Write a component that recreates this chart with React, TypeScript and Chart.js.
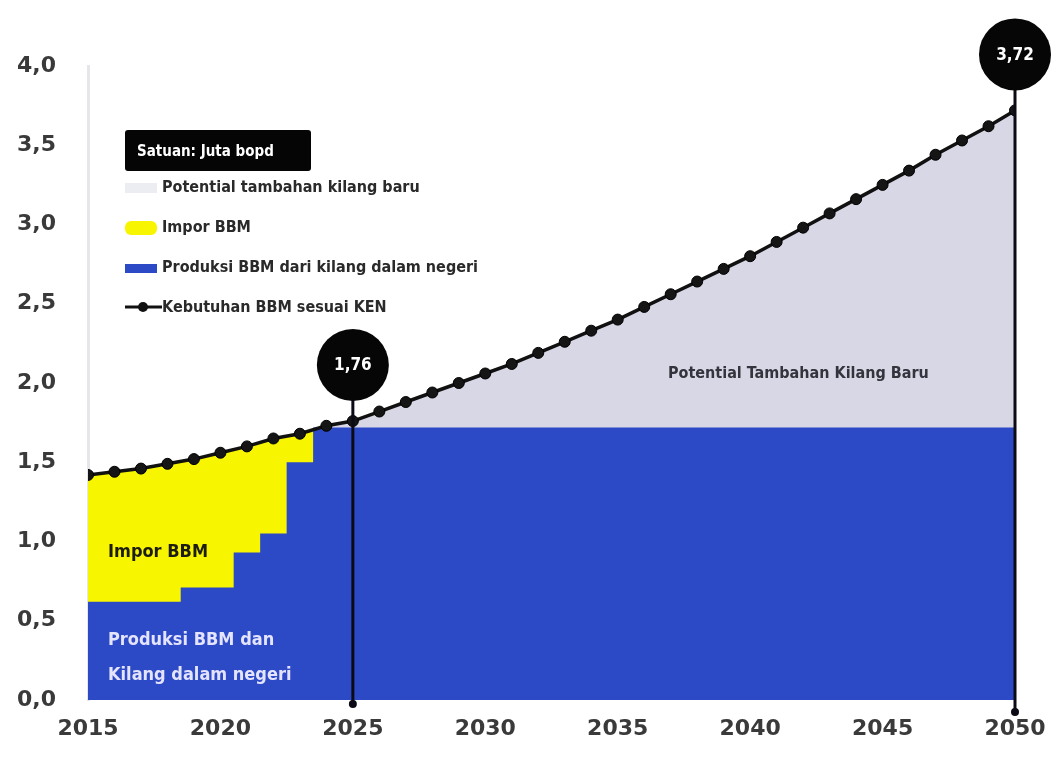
import React, { useEffect, useRef } from 'react';
import { Chart, registerables } from 'chart.js';

Chart.register(...registerables);

// ---------- DATA ----------
const years = [
  2015, 2016, 2017, 2018, 2019, 2020, 2021, 2022, 2023, 2024,
  2025, 2026, 2027, 2028, 2029, 2030, 2031, 2032, 2033, 2034,
  2035, 2036, 2037, 2038, 2039, 2040, 2041, 2042, 2043, 2044,
  2045, 2046, 2047, 2048, 2049, 2050,
];

// Kebutuhan BBM sesuai KEN (juta bopd)
const demand = [
  1.42, 1.44, 1.46, 1.49, 1.52, 1.56, 1.60, 1.65, 1.68, 1.73,
  1.76, 1.82, 1.88, 1.94, 2.00, 2.06, 2.12, 2.19, 2.26, 2.33,
  2.40, 2.48, 2.56, 2.64, 2.72, 2.80, 2.89, 2.98, 3.07, 3.16,
  3.25, 3.34, 3.44, 3.53, 3.62, 3.72,
];

// Produksi BBM dari kilang dalam negeri (juta bopd)
const production = [
  0.62, 0.62, 0.62, 0.62, 0.71, 0.71, 0.93, 1.05, 1.50, 1.72,
  1.72, 1.72, 1.72, 1.72, 1.72, 1.72, 1.72, 1.72, 1.72, 1.72,
  1.72, 1.72, 1.72, 1.72, 1.72, 1.72, 1.72, 1.72, 1.72, 1.72,
  1.72, 1.72, 1.72, 1.72, 1.72, 1.72,
];

// Impor BBM covers demand up to this year; new refinery potential from it on
const importLastYear = 2024;
const potentialFirstYear = 2024;

const calloutYears = [2025, 2050];

const xTicks = [2015, 2020, 2025, 2030, 2035, 2040, 2045, 2050];
const yTicks = [0, 0.5, 1.0, 1.5, 2.0, 2.5, 3.0, 3.5, 4.0];

const legendLabels = [
  'Potential tambahan kilang baru',
  'Impor BBM',
  'Produksi BBM dari kilang dalam negeri',
  'Kebutuhan BBM sesuai KEN',
];
const unitLabel = 'Satuan: Juta bopd';
const areaLabelImport = 'Impor BBM';
const areaLabelProduction = ['Produksi BBM dan', 'Kilang dalam negeri'];
const areaLabelPotential = 'Potential Tambahan Kilang Baru';

// ---------- STYLE ----------
const BLUE = '#2c49c6';
const YELLOW = '#f8f500';
const GRAY = '#d8d7e6';
const NARROW = '"DejaVu Sans Condensed", "Liberation Sans Narrow", "Roboto", sans-serif';
const fmt = (v: number, d: number) => v.toFixed(d).replace('.', ',');

const overlayPlugin = {
  id: 'overlay',
  afterDatasetsDraw(chart: any) {
    const { ctx, scales, chartArea } = chart;
    const x = scales.x;
    const y = scales.y;
    const extensions = [4, 12];
    calloutYears.forEach((yr, k) => {
      const v = demand[years.indexOf(yr)];
      const px = x.getPixelForValue(yr);
      const py = y.getPixelForValue(v);
      const cy = py - 56;
      const r = 36;
      const bottom = chartArea.bottom + extensions[k];
      ctx.save();
      ctx.strokeStyle = '#0b0b16';
      ctx.lineWidth = 3;
      ctx.beginPath();
      ctx.moveTo(px, cy);
      ctx.lineTo(px, bottom);
      ctx.stroke();
      ctx.fillStyle = '#0b0b16';
      ctx.beginPath();
      ctx.arc(px, bottom, 4, 0, Math.PI * 2);
      ctx.fill();
      ctx.fillStyle = '#060606';
      ctx.beginPath();
      ctx.arc(px, cy, r, 0, Math.PI * 2);
      ctx.fill();
      ctx.fillStyle = '#ffffff';
      ctx.font = `bold 17px ${NARROW}`;
      ctx.textAlign = 'center';
      ctx.textBaseline = 'middle';
      ctx.fillText(fmt(v, 2), px, cy + 1);
      ctx.restore();
    });
  },
  afterDraw(chart: any) {
    const { ctx } = chart;
    ctx.save();
    // area labels
    ctx.textBaseline = 'middle';
    ctx.textAlign = 'left';
    ctx.font = `bold 18px ${NARROW}`;
    ctx.fillStyle = '#1c1c10';
    ctx.fillText(areaLabelImport, 108, 552);
    ctx.fillStyle = '#e4e4ff';
    ctx.font = `bold 18px ${NARROW}`;
    ctx.fillText(areaLabelProduction[0], 108, 640);
    ctx.fillText(areaLabelProduction[1], 108, 675);
    ctx.fillStyle = '#34343c';
    ctx.font = `bold 16px ${NARROW}`;
    ctx.fillText(areaLabelPotential, 668, 374);

    // legend
    ctx.fillStyle = '#050505';
    ctx.beginPath();
    ctx.roundRect(125, 130, 186, 41, 3);
    ctx.fill();
    ctx.fillStyle = '#ffffff';
    ctx.font = `bold 15px ${NARROW}`;
    ctx.fillText(unitLabel, 137, 152);

    const rows = [188, 228, 268, 308];
    ctx.fillStyle = '#ececf3';
    ctx.fillRect(125, 183, 32, 10);
    ctx.fillStyle = YELLOW;
    ctx.beginPath();
    ctx.roundRect(125, 221, 32, 14, 6);
    ctx.fill();
    ctx.fillStyle = BLUE;
    ctx.fillRect(125, 264, 32, 9);
    ctx.strokeStyle = '#111';
    ctx.lineWidth = 3;
    ctx.beginPath();
    ctx.moveTo(125, 307);
    ctx.lineTo(162, 307);
    ctx.stroke();
    ctx.fillStyle = '#111';
    ctx.beginPath();
    ctx.arc(143, 307, 5, 0, Math.PI * 2);
    ctx.fill();

    ctx.fillStyle = '#2a2a2a';
    ctx.font = `bold 16px ${NARROW}`;
    legendLabels.forEach((t, i) => ctx.fillText(t, 162, rows[i]));
    ctx.restore();
  },
};

export default function App() {
  const canvasRef = useRef<HTMLCanvasElement | null>(null);

  useEffect(() => {
    if (!canvasRef.current) return;
    const pts = (vals: number[], keep: (yr: number) => boolean) =>
      years.filter((yr) => keep(yr)).map((yr) => ({ x: yr, y: vals[years.indexOf(yr)] }));

    const chart = new Chart(canvasRef.current, {
      type: 'line',
      data: {
        datasets: [
          {
            label: legendLabels[3],
            data: pts(demand, () => true),
            borderColor: '#111111',
            borderWidth: 3.5,
            pointRadius: 5.5,
            pointBackgroundColor: '#151515',
            pointBorderColor: '#000000',
            pointBorderWidth: 1,
            fill: false,
            tension: 0,
          },
          {
            label: legendLabels[2],
            data: pts(production, () => true),
            borderWidth: 0,
            borderColor: BLUE,
            backgroundColor: BLUE,
            pointRadius: 0,
            stepped: 'middle',
            fill: 'origin',
          },
          {
            label: legendLabels[1],
            data: pts(demand, (yr) => yr <= importLastYear),
            borderWidth: 0,
            borderColor: YELLOW,
            backgroundColor: YELLOW,
            pointRadius: 0,
            fill: 'origin',
          },
          {
            label: legendLabels[0],
            data: pts(demand, (yr) => yr >= potentialFirstYear),
            borderWidth: 0,
            borderColor: GRAY,
            backgroundColor: GRAY,
            pointRadius: 0,
            fill: 'origin',
          },
        ],
      },
      options: {
        animation: false,
        responsive: false,
        layout: { padding: { left: 0, top: 66, right: 36, bottom: 0 } },
        plugins: {
          legend: { display: false },
          tooltip: { enabled: false },
        },
        scales: {
          x: {
            type: 'linear',
            min: xTicks[0],
            max: xTicks[xTicks.length - 1],
            afterBuildTicks: (s: any) => {
              s.ticks = xTicks.map((v) => ({ value: v }));
            },
            afterFit: (s: any) => {
              s.height = 58;
              s.paddingLeft = 0;
              s.paddingRight = 0;
            },
            grid: { display: false, drawTicks: false },
            border: { display: false },
            ticks: {
              padding: 16,
              color: '#3a3a3a',
              font: { family: '"DejaVu Sans", sans-serif', size: 22, weight: 'bold' },
              callback: (v: any) => String(v),
              maxRotation: 0,
              autoSkip: false,
            },
          },
          y: {
            min: yTicks[0],
            max: yTicks[yTicks.length - 1],
            afterBuildTicks: (s: any) => {
              s.ticks = yTicks.map((v) => ({ value: v }));
            },
            afterFit: (s: any) => {
              s.width = 88;
              s.paddingTop = 0;
              s.paddingBottom = 0;
            },
            grid: { display: false, drawTicks: false },
            border: { display: true, color: '#e6e6ea', width: 3 },
            ticks: {
              padding: 32,
              color: '#3a3a3a',
              font: { family: '"DejaVu Sans", sans-serif', size: 22, weight: 'bold' },
              callback: (v: any) => fmt(Number(v), 1),
            },
          },
        },
      },
      plugins: [overlayPlugin],
    });
    return () => chart.destroy();
  }, []);

  return (
    <div style={{ position: 'absolute', left: 0, top: 0, width: 1051, height: 758, background: '#fff' }}>
      <canvas ref={canvasRef} width={1051} height={758} style={{ display: 'block' }} />
    </div>
  );
}
